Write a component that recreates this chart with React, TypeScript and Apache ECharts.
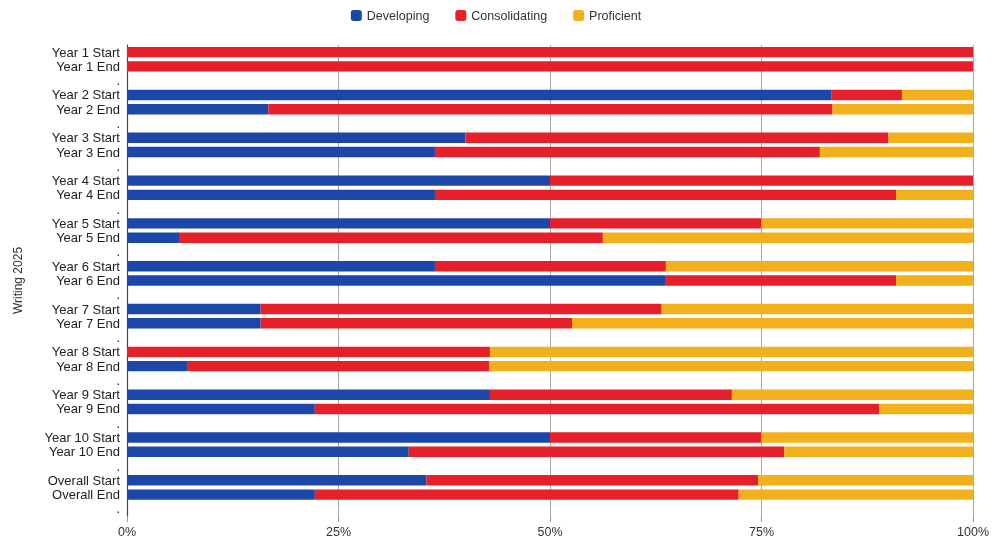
import React, { useEffect, useRef } from "react";
import * as echarts from "echarts";

const groups = [
  "Year 1", "Year 2", "Year 3", "Year 4", "Year 5", "Year 6",
  "Year 7", "Year 8", "Year 9", "Year 10", "Overall",
];
const phases = ["Start", "End"];
const spacerLabel = ".";

const developing = [0, 0, 83.3, 16.7, 40, 36.4, 50, 36.4, 50, 6.25, 36.4, 63.6, 15.8, 15.8, 0, 7.1, 42.9, 22.2, 50, 33.3, 35.4, 22.2];
const consolidating = [100, 100, 8.3, 66.7, 50, 45.5, 50, 54.5, 25, 50, 27.3, 27.3, 47.4, 36.8, 42.9, 35.7, 28.6, 66.7, 25, 44.4, 39.2, 50.1];
const proficient = [0, 0, 8.4, 16.6, 10, 18.1, 0, 9.1, 25, 43.75, 36.3, 9.1, 36.8, 47.4, 57.1, 57.2, 28.5, 11.1, 25, 22.3, 25.4, 27.7];

const xTicks = [0, 25, 50, 75, 100];

const seriesNames = ["Developing", "Consolidating", "Proficient"];
const colors = ["#1c47a8", "#e6202a", "#f2b01c"];

function withSpacers(values: number[]): (number | string)[] {
  const out: (number | string)[] = [];
  for (let g = 0; g < groups.length; g++) {
    out.push(values[g * 2], values[g * 2 + 1], "-");
  }
  return out;
}

const categories: string[] = [];
groups.forEach((g) => {
  phases.forEach((p) => categories.push(`${g} ${p}`));
  categories.push(spacerLabel);
});

export default function App() {
  const ref = useRef<HTMLDivElement>(null);
  useEffect(() => {
    if (!ref.current) return;
    const chart = echarts.init(ref.current, undefined, { renderer: "svg" });
    const font = "'Liberation Sans', Arial, sans-serif";
    chart.setOption({
      animation: false,
      textStyle: { fontFamily: font },
      color: colors,
      legend: {
        top: 4,
        left: "center",
        icon: "roundRect",
        itemWidth: 11,
        itemHeight: 11,
        itemGap: 26,
        textStyle: { fontSize: 12.5, color: "#333", fontFamily: font },
        data: seriesNames,
      },
      grid: { left: 127, right: 15, top: 45, bottom: 30 },
      xAxis: {
        type: "value",
        min: xTicks[0],
        max: xTicks[xTicks.length - 1],
        interval: 25,
        axisLine: { show: false },
        axisTick: { show: true, length: 6, lineStyle: { color: "#999" } },
        splitLine: { show: true, lineStyle: { color: "#aaa", width: 1 } },
        axisLabel: {
          formatter: "{value}%",
          fontSize: 12.5,
          color: "#333",
          margin: 9,
          fontFamily: font,
        },
      },
      yAxis: {
        type: "category",
        inverse: true,
        data: categories,
        name: "Writing 2025",
        nameLocation: "middle",
        nameGap: 103,
        nameTextStyle: { fontSize: 12, color: "#333", fontFamily: font },
        axisLine: { show: true, lineStyle: { color: "#444", width: 1.2 } },
        axisTick: { show: false },
        axisLabel: {
          interval: 0,
          fontSize: 13,
          color: "#222",
          margin: 7,
          fontFamily: font,
        },
      },
      series: [developing, consolidating, proficient].map((vals, i) => ({
        name: seriesNames[i],
        type: "bar",
        stack: "total",
        barCategoryGap: "27%",
        data: withSpacers(vals),
        itemStyle: { color: colors[i] },
      })),
    });
    return () => chart.dispose();
  }, []);
  return (
    <div
      ref={ref}
      style={{ position: "fixed", left: 0, top: 0, width: 992, height: 546 }}
    />
  );
}
